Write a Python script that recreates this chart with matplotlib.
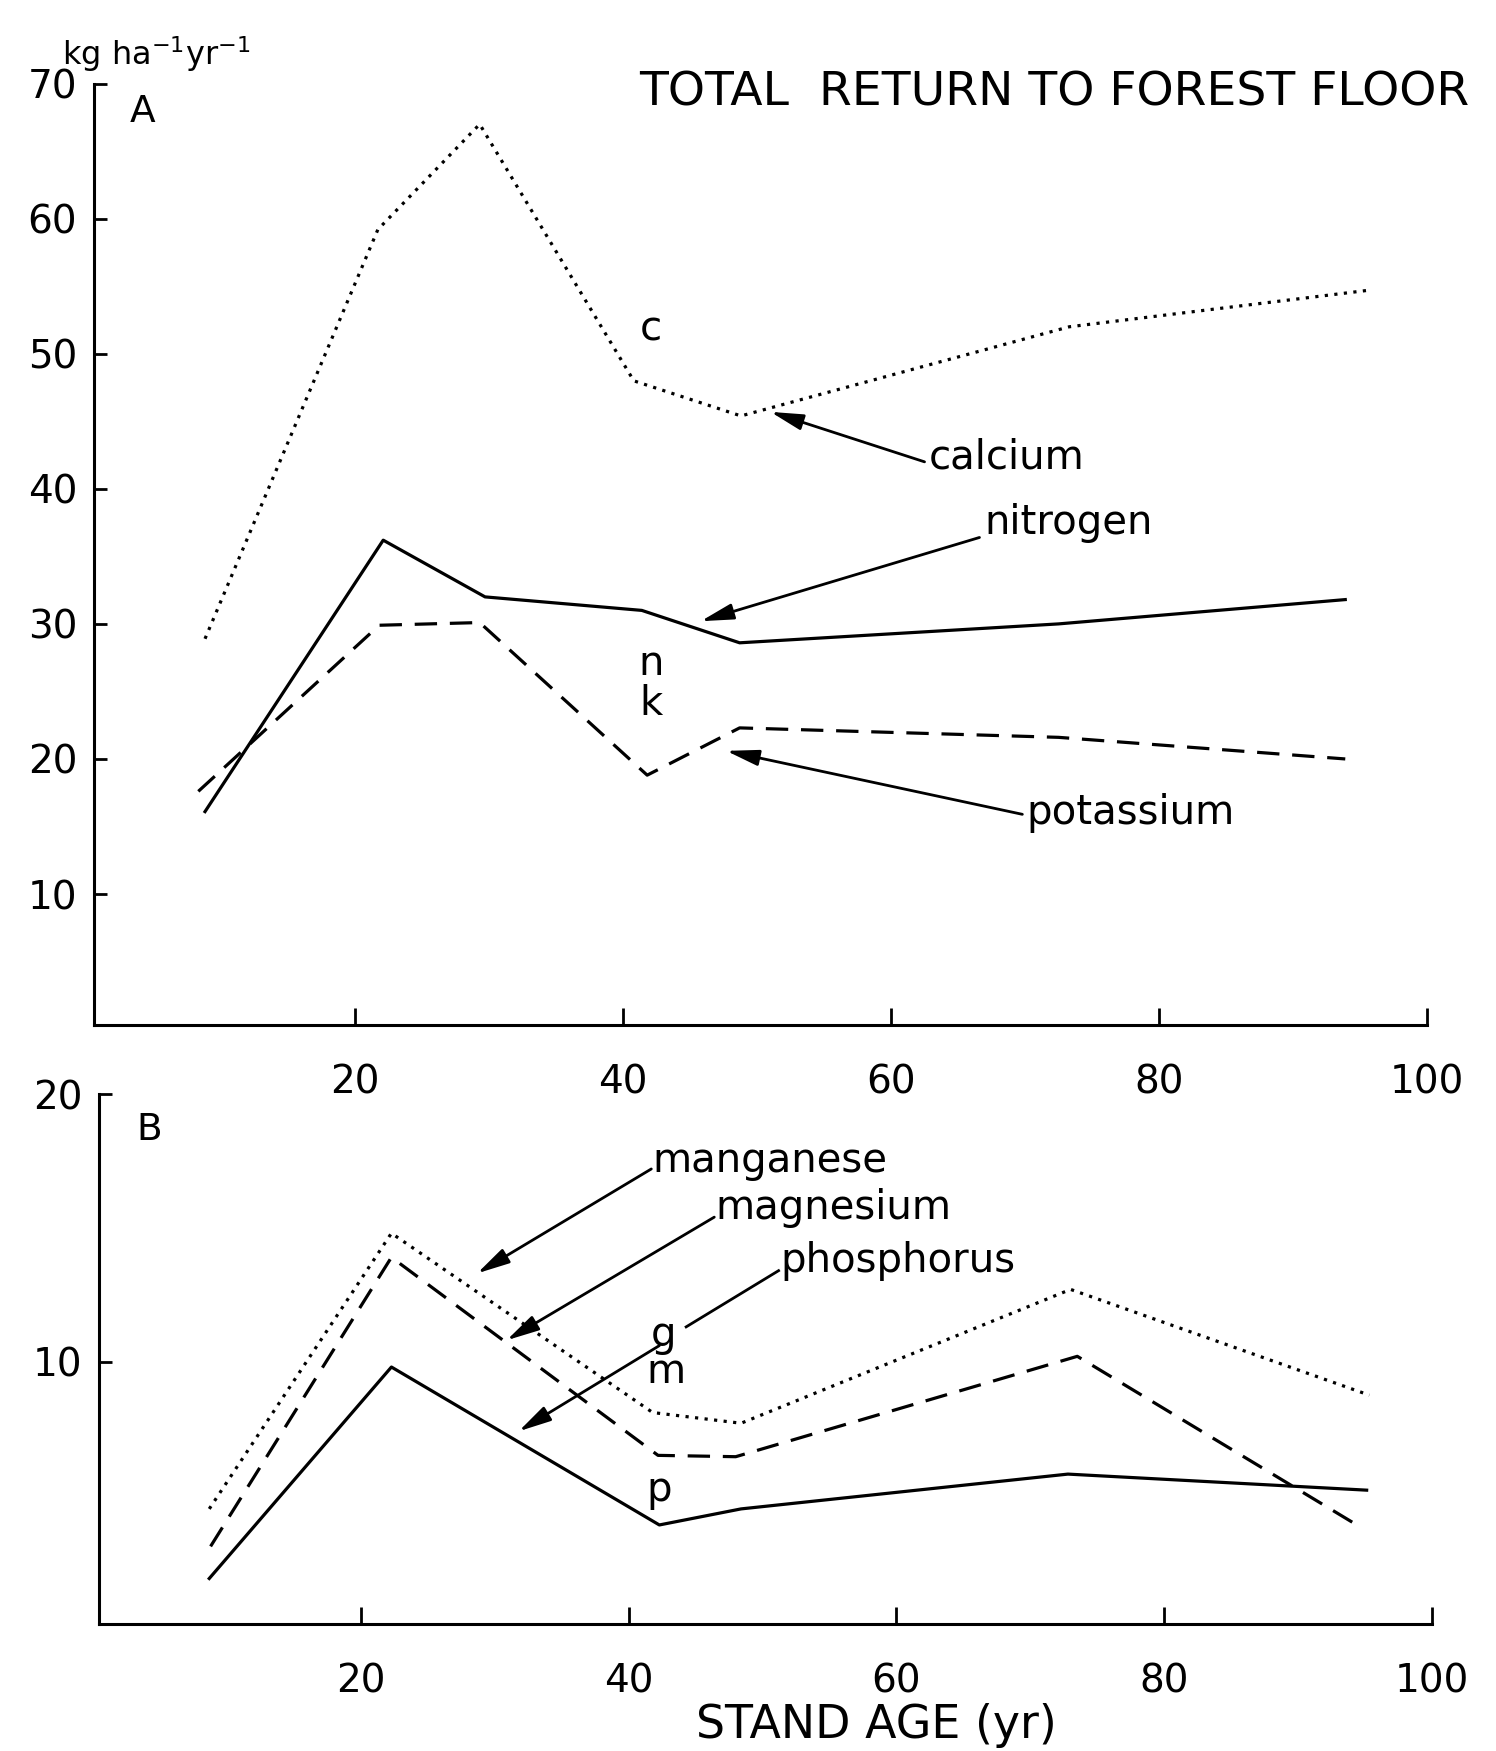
import matplotlib
matplotlib.use("Agg")
import matplotlib.pyplot as plt

# ---- Panel A: major nutrients returned to the forest floor (kg ha-1 yr-1) ----
calcium_age = [8.8, 21.7, 29.3, 40.8, 48.8, 73.3, 95.6]
calcium = [28.9, 59.2, 67.0, 48.0, 45.4, 52.0, 54.7]
nitrogen_age = [8.8, 22.1, 29.7, 41.4, 48.7, 72.5, 93.9]
nitrogen = [16.1, 36.2, 32.0, 31.0, 28.6, 30.0, 31.8]
potassium_age = [8.3, 21.8, 29.3, 41.8, 48.7, 72.5, 93.9]
potassium = [17.6, 29.9, 30.1, 18.8, 22.3, 21.6, 20.0]

# ---- Panel B: minor nutrients ----
manganese_age = [8.7, 22.3, 41.8, 48.4, 73.0, 95.3]
manganese = [4.5, 14.8, 8.1, 7.7, 12.7, 8.75]
magnesium_age = [8.8, 22.3, 42.2, 48.0, 73.5, 94.7]
magnesium = [3.1, 13.9, 6.5, 6.45, 10.2, 3.8]
phosphorus_age = [8.7, 22.3, 42.3, 48.4, 72.8, 95.1]
phosphorus = [1.9, 9.8, 3.9, 4.5, 5.8, 5.2]

x_ticks = [20, 40, 60, 80, 100]
y_ticks_a = [10, 20, 30, 40, 50, 60, 70]
y_ticks_b = [10, 20]

plt.rcParams['font.family'] = ['DejaVu Sans']

W, H = 1496, 1751
fig = plt.figure(figsize=(W / 100, H / 100), dpi=100)
fig.patch.set_facecolor('white')


def px_box(left, right, top, bottom):
    return [left / W, 1 - bottom / H, (right - left) / W, (bottom - top) / H]


ax_a = fig.add_axes(px_box(93.8, 1427, 83.7, 1025))
ax_b = fig.add_axes(px_box(99.4, 1432.3, 1094, 1624))

LW = 2.3
solid = dict(color='black', lw=LW, linestyle='-')
dotted = dict(color='black', lw=LW, linestyle=(0, (1, 2.0)))
dashed = dict(color='black', lw=LW, linestyle=(0, (7, 4)))

ax_a.plot(calcium_age, calcium, **dotted)
ax_a.plot(nitrogen_age, nitrogen, **solid)
ax_a.plot(potassium_age, potassium, **dashed)

ax_b.plot(manganese_age, manganese, **dotted)
ax_b.plot(magnesium_age, magnesium, **dashed)
ax_b.plot(phosphorus_age, phosphorus, **solid)

for ax, yt, ylim in ((ax_a, y_ticks_a, (0.3, 70)), (ax_b, y_ticks_b, (0.2, 20))):
    ax.set_xlim(0.5, 100)
    ax.set_ylim(*ylim)
    ax.set_xticks(x_ticks)
    ax.set_yticks(yt)
    ax.set_xticklabels([str(t) for t in x_ticks])
    ax.set_yticklabels([str(t) for t in yt])
    for side in ('top', 'right'):
        ax.spines[side].set_visible(False)
    for side in ('left', 'bottom'):
        ax.spines[side].set_linewidth(2.2)
    ax.tick_params(axis='x', direction='in', length=12, width=2, pad=28,
                   labelsize=28)
    ax.tick_params(axis='y', direction='in', length=9, width=2, pad=12,
                   labelsize=28)
    ax.set_facecolor('white')

arrow_kw = dict(arrowstyle='-|>,head_length=0.9,head_width=0.22',
                mutation_scale=22, color='black', lw=2.0,
                shrinkA=0, shrinkB=0)
label_fs = 29


def pointer(ax, tail, tip):
    ax.annotate('', xy=tip, xytext=tail, arrowprops=arrow_kw)


# Panel A labels
ax_a.text(4.1, 67.9, 'A', fontsize=27, ha='center', va='center')
ax_a.text(42.1, 51.8, 'c', fontsize=label_fs, ha='center', va='center')
ax_a.text(42.1, 27.0, 'n', fontsize=label_fs, ha='center', va='center')
ax_a.text(42.1, 24.1, 'k', fontsize=label_fs, ha='center', va='center')

ax_a.text(62.8, 42.3, 'calcium', fontsize=label_fs, ha='left', va='center')
pointer(ax_a, (62.5, 42.0), (51.0, 45.7))
ax_a.text(67.0, 37.5, 'nitrogen', fontsize=label_fs, ha='left', va='center')
pointer(ax_a, (66.6, 36.4), (45.8, 30.2))
ax_a.text(70.1, 16.0, 'potassium', fontsize=label_fs, ha='left', va='center')
pointer(ax_a, (69.8, 15.9), (47.7, 20.6))

# Panel B labels
ax_b.text(4.2, 18.66, 'B', fontsize=27, ha='center', va='center')
ax_b.text(42.6, 11.0, 'g', fontsize=label_fs, ha='center', va='center')
ax_b.text(42.8, 9.6, 'm', fontsize=label_fs, ha='center', va='center')
ax_b.text(42.3, 5.2, 'p', fontsize=label_fs, ha='center', va='center')

ax_b.text(41.8, 17.5, 'manganese', fontsize=label_fs, ha='left', va='center')
pointer(ax_b, (41.7, 17.2), (28.7, 13.3))
ax_b.text(46.5, 15.75, 'magnesium', fontsize=label_fs, ha='left', va='center')
pointer(ax_b, (46.4, 15.4), (30.9, 10.8))
ax_b.text(51.3, 13.75, 'phosphorus', fontsize=label_fs, ha='left', va='center')
ax_b.plot([51.2, 44.3], [13.4, 11.3], color='black', lw=2.0)
pointer(ax_b, (42.3, 10.6), (31.8, 7.4))

# Figure-level text
fig.text(639 / W, 1 - 106 / H, 'TOTAL  RETURN TO FOREST FLOOR',
         fontsize=34, ha='left', va='baseline')
fig.text(62 / W, 1 - 65 / H, r'kg ha$^{-1}$yr$^{-1}$',
         fontsize=23, ha='left', va='baseline')
fig.text(876 / W, 1 - 1725 / H, 'STAND AGE (yr)',
         fontsize=33, ha='center', va='center')

fig.savefig('out.png', dpi=100, facecolor='white')
